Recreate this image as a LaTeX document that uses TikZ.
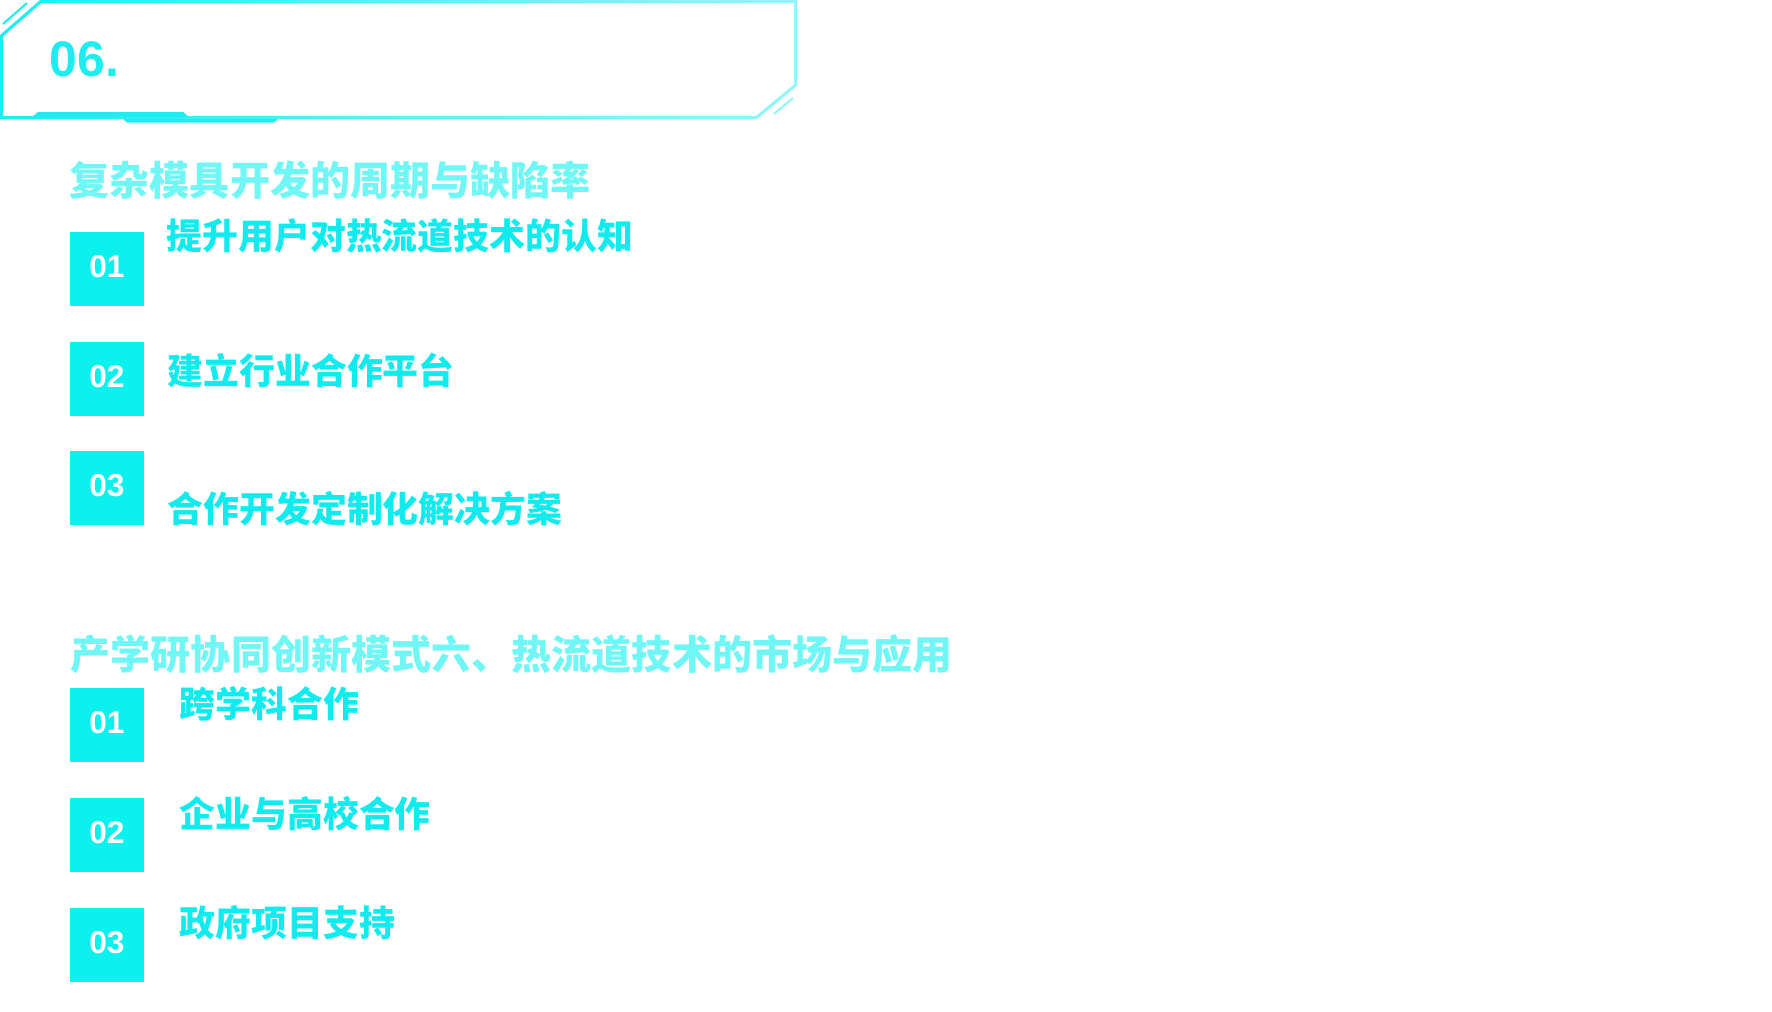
\documentclass[tikz,border=0pt]{standalone}
\usepackage{fontspec}
\newfontfamily\cjk{Noto Sans CJK SC}
\newfontfamily\numfont{Liberation Sans}
\usetikzlibrary{positioning}
\definecolor{framecyan}{HTML}{1EEDF0}
\definecolor{framelight}{HTML}{92F6FA}
\definecolor{titlecyan}{HTML}{70F7F5}
\definecolor{boxcyan}{HTML}{0CF0EE}
\definecolor{labelcyan}{HTML}{12EBEE}
\tikzset{
	numbox/.style={fill=boxcyan, minimum size=0.74cm, inner sep=0pt, text=white, font=\numfont\bfseries\fontsize{9}{9}\selectfont, text depth=0.06cm},
	heading/.style={anchor=base west, inner sep=0pt, text=titlecyan, font=\cjk\bfseries\fontsize{11.4}{11.4}\selectfont},
	itemtext/.style={anchor=base west, inner sep=0pt, text=labelcyan, font=\cjk\bfseries\fontsize{10.2}{10.2}\selectfont}
}
\begin{document}
\begin{tikzpicture}[x=0.01cm, y=-0.01cm]
	\useasboundingbox (0,0) rectangle (1772,1012);
	% header frame
	\shade[left color=framecyan, right color=framelight, even odd rule]
		(40,0) -- (797,0) -- (797,86) -- (757,119) -- (0,119) -- (0,35) -- cycle
		(41.5,3) -- (794,3) -- (794,84.5) -- (756,116) -- (3,116) -- (3,36.5) -- cycle;
	\draw[framecyan, line width=0.6pt] (27,3) -- (3,24);
	\draw[framelight, line width=0.6pt] (793,98) -- (774,114);
	\fill[framecyan] (38,112) -- (183,112) -- (189,117) -- (32,117) -- cycle;
	\fill[framecyan] (123,119) -- (278,119) -- (274,122.5) -- (127,122.5) -- cycle;
	\node[anchor=base west, inner sep=0pt, text=framecyan, font=\numfont\bfseries\fontsize{14.2}{14.2}\selectfont] (num) at (49,76) {06.};
	% first block
	\node[heading] (h1) at (69,195) {复杂模具开发的周期与缺陷率};
	\node[numbox] (a1) at (107,269) {01};
	\node[numbox] (a2) at (107,379) {02};
	\node[numbox] (a3) at (107,488) {03};
	\node[itemtext] (t1) at (166,249.5) {提升用户对热流道技术的认知};
	\node[itemtext] (t2) at (167,384.5) {建立行业合作平台};
	\node[itemtext] (t3) at (167,522) {合作开发定制化解决方案};
	% second block
	\node[heading] (h2) at (70,669) {产学研协同创新模式六、热流道技术的市场与应用};
	\node[numbox] (c1) at (107,725) {01};
	\node[numbox] (c2) at (107,835) {02};
	\node[numbox] (c3) at (107,945) {03};
	\node[itemtext] (s1) at (179,717.5) {跨学科合作};
	\node[itemtext] (s2) at (179,827) {企业与高校合作};
	\node[itemtext] (s3) at (179,936.5) {政府项目支持};
\end{tikzpicture}
\end{document}
